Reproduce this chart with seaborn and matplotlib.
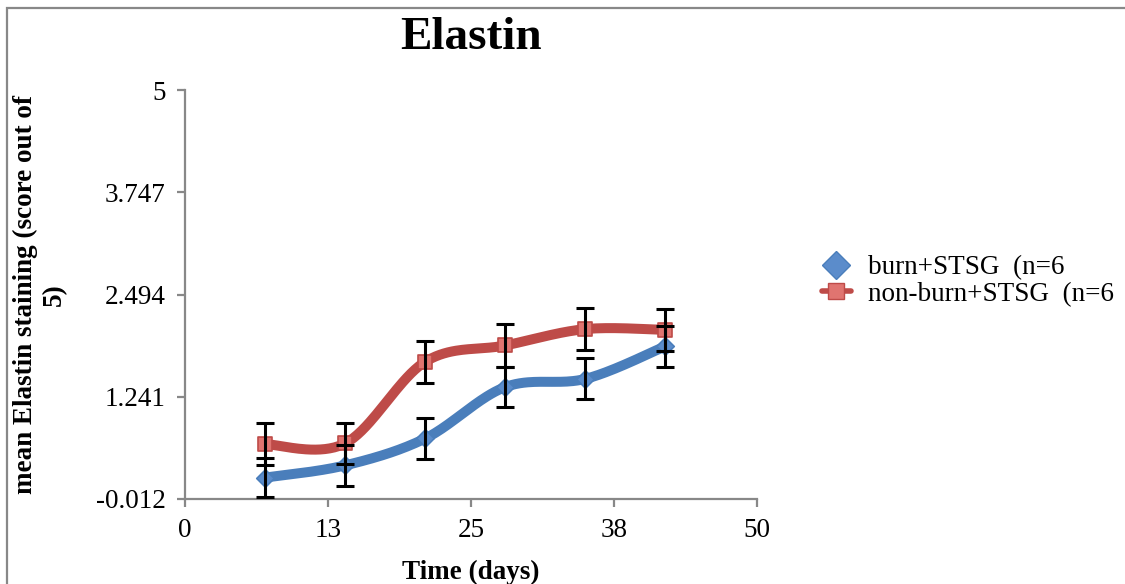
import numpy as np
import pandas as pd
import seaborn as sns
import matplotlib
matplotlib.use("Agg")
import matplotlib.pyplot as plt
from matplotlib.lines import Line2D
from matplotlib.patches import Rectangle

# Elastin staining scores over time for two graft groups
days = [7, 14, 21, 28, 35, 42]
series_names = ["burn+STSG  (n=6", "non-burn+STSG  (n=6"]
burn_mean = [0.25, 0.40, 0.73, 1.36, 1.46, 1.86]
burn_err = [0.24, 0.25, 0.25, 0.24, 0.25, 0.25]
nonburn_mean = [0.66, 0.67, 1.67, 1.87, 2.07, 2.06]
nonburn_err = [0.26, 0.25, 0.26, 0.26, 0.26, 0.26]

x_ticks = [0, 12.5, 25, 37.5, 50]
x_tick_labels = ["0", "13", "25", "38", "50"]
y_ticks = [-0.012, 1.241, 2.494, 3.747, 5]
y_tick_labels = ["-0.012", "1.241", "2.494", "3.747", "5"]

line_colors = ["#4a7ebb", "#be4b48"]
marker_faces = ["#5b8ccb", "#e07470"]
markers = ["D", "s"]


def smooth_curve(xs, ys, n=40):
    """Bezier smoothing through every point (Catmull-Rom style control points)."""
    pts = np.column_stack([xs, ys]).astype(float)
    padded = np.vstack([pts[0], pts, pts[-1]])
    out = []
    t = np.linspace(0, 1, n)[:, None]
    for i in range(1, len(padded) - 2):
        p0, p1, p2, p3 = padded[i - 1], padded[i], padded[i + 1], padded[i + 2]
        c1 = p1 + (p2 - p0) / 6.0
        c2 = p2 - (p3 - p1) / 6.0
        seg = ((1 - t) ** 3) * p1 + 3 * ((1 - t) ** 2) * t * c1 \
            + 3 * (1 - t) * t ** 2 * c2 + t ** 3 * p2
        out.append(seg if i == 1 else seg[1:])
    return np.vstack(out)


sns.set_theme(style="white")
plt.rcParams["font.family"] = ["Liberation Serif", "DejaVu Serif"]
plt.rcParams["text.color"] = "black"
plt.rcParams["axes.labelcolor"] = "black"

fig = plt.figure(figsize=(11.25, 5.84), dpi=100)
ax = fig.add_axes([185 / 1125, 1 - 499 / 584, 572 / 1125, 409 / 584])

means = [burn_mean, nonburn_mean]
errs = [burn_err, nonburn_err]

for k in range(2):
    curve = smooth_curve(days, means[k])
    df_curve = pd.DataFrame({"day": curve[:, 0], "score": curve[:, 1]})
    sns.lineplot(data=df_curve, x="day", y="score", ax=ax, sort=False,
                 color=line_colors[k], linewidth=7.2, zorder=2 + k,
                 solid_capstyle="round")
    df_pts = pd.DataFrame({"day": days, "score": means[k]})
    sns.scatterplot(data=df_pts, x="day", y="score", ax=ax, marker=markers[k],
                    s=100 if k == 1 else 80, color=marker_faces[k],
                    edgecolor=line_colors[k], linewidth=1.2, zorder=3 + k)

for k in range(2):
    ax.errorbar(days, means[k], yerr=errs[k], fmt="none", ecolor="black",
                elinewidth=2.2, capsize=6.5, capthick=2.2, zorder=6)

ax.set_xlim(0, 50)
ax.set_ylim(-0.012, 5)
ax.set_xticks(x_ticks)
ax.set_xticklabels(x_tick_labels)
ax.set_yticks(y_ticks)
ax.set_yticklabels(y_tick_labels)

for side in ["top", "right"]:
    ax.spines[side].set_visible(False)
for side in ["left", "bottom"]:
    ax.spines[side].set_color("#888888")
    ax.spines[side].set_linewidth(1.6)

ax.tick_params(axis="both", which="major", direction="out", length=6,
               width=1.6, color="#888888", labelsize=19.5, labelcolor="black",
               left=True, bottom=True)
ax.tick_params(axis="y", pad=8)
ax.tick_params(axis="x", pad=8)

ax.set_xlabel("Time (days)", fontsize=19.5, fontweight="bold", color="black")
ax.xaxis.label.set_va("center")
ax.xaxis.set_label_coords(0.5, (499 - 572) / 409)
ax.set_ylabel("mean Elastin staining (score out of\n5)", fontsize=19.5,
              fontweight="bold", multialignment="center", color="black")
ax.yaxis.label.set_va("center")
ax.yaxis.set_label_coords((40 - 185) / 572, 0.5)

ax.set_title("Elastin", fontsize=34, fontweight="bold", color="black",
             y=(499 - 38) / 409, va="center", pad=0)

handles = [
    Line2D([], [], color=line_colors[0], marker=markers[0], markersize=14,
           markerfacecolor=marker_faces[0], markeredgecolor=line_colors[0],
           linewidth=0),
    Line2D([], [], color=line_colors[1], marker=markers[1], markersize=12,
           markerfacecolor=marker_faces[1], markeredgecolor=line_colors[1],
           linewidth=4),
]
fig.legend(handles, series_names, loc="center left",
           bbox_to_anchor=(808 / 1125, 1 - 281 / 584), frameon=False,
           fontsize=19.5, handlelength=1.1, handletextpad=0.6,
           labelspacing=0.05, borderpad=0)

# chart-area frame
fig.patches.append(Rectangle((7 / 1125, -0.2), 2.0, 0.2 + (1 - 8 / 584),
                             transform=fig.transFigure, fill=False,
                             edgecolor="#888888", linewidth=1.6))

fig.savefig("out.png", dpi=100, facecolor="white")
